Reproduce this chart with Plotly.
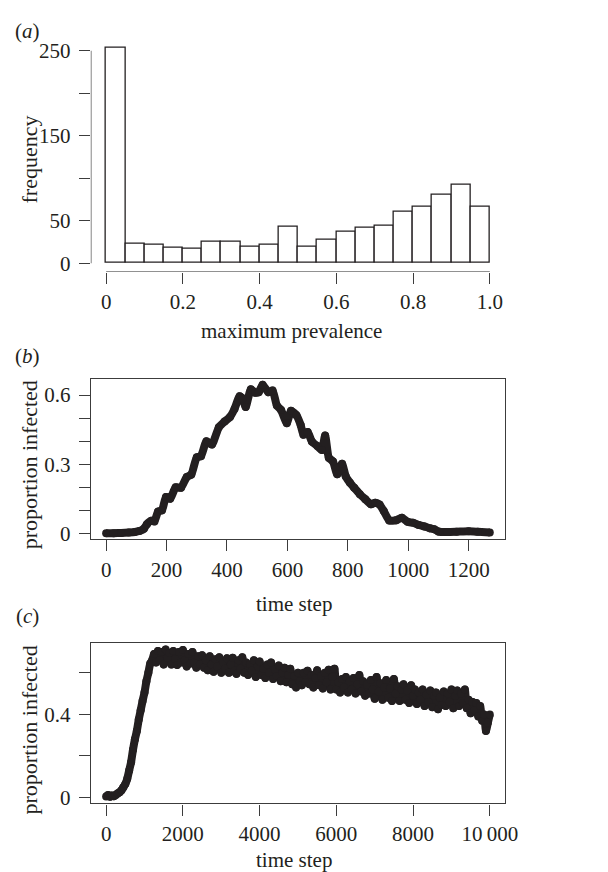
import plotly.graph_objects as go

# ---------------- data ----------------
# (a) histogram of maximum prevalence (bin width 0.05)
bin_left = [0.00, 0.05, 0.10, 0.15, 0.20, 0.25, 0.30, 0.35, 0.40, 0.45,
            0.50, 0.55, 0.60, 0.65, 0.70, 0.75, 0.80, 0.85, 0.90, 0.95]
bin_counts = [254, 23, 22, 18, 17, 25, 25, 19, 22, 43,
              19, 28, 37, 42, 44, 60, 66, 80, 92, 67]
bin_width = 0.05

# (b) single epidemic trajectory
b_time = [0, 25, 50, 75, 95, 110, 125, 135, 150, 160, 172, 185, 198, 212, 230,
          248, 267, 282, 300, 314, 332, 350, 373, 392, 410, 425, 442, 452, 462,
          479, 493, 505, 518, 537, 551, 565, 579, 598, 612, 630, 644, 653, 667,
          681, 700, 714, 725, 737, 751, 765, 781, 793, 807, 821, 840, 858, 877,
          891, 905, 919, 937, 960, 979, 998, 1016, 1035, 1053, 1072, 1086, 1100,
          1130, 1160, 1200, 1230, 1270]
b_prop = [0.000, 0.001, 0.002, 0.004, 0.006, 0.010, 0.020, 0.040, 0.055, 0.052,
          0.095, 0.100, 0.158, 0.150, 0.200, 0.198, 0.245, 0.255, 0.330, 0.335,
          0.400, 0.385, 0.460, 0.485, 0.505, 0.540, 0.595, 0.585, 0.548, 0.625,
          0.610, 0.612, 0.645, 0.612, 0.620, 0.555, 0.535, 0.478, 0.532, 0.512,
          0.470, 0.428, 0.440, 0.398, 0.378, 0.362, 0.425, 0.328, 0.312, 0.256,
          0.302, 0.248, 0.220, 0.198, 0.170, 0.148, 0.126, 0.133, 0.125, 0.097,
          0.056, 0.057, 0.068, 0.050, 0.046, 0.036, 0.030, 0.022, 0.018, 0.008,
          0.006, 0.007, 0.009, 0.007, 0.004]

# (c) long-run trajectory: rise phase (every 50 steps)
c_time_rise = [0, 50, 100, 150, 200, 250, 300, 350, 400, 450, 500, 550, 600,
               650, 700, 750, 800, 850, 900, 950, 1000, 1050, 1100, 1150]
c_prop_rise = [0.005, 0.012, 0.004, 0.010, 0.006, 0.012, 0.020, 0.025, 0.035,
               0.050, 0.065, 0.090, 0.130, 0.170, 0.230, 0.280, 0.320, 0.375,
               0.420, 0.465, 0.505, 0.560, 0.600, 0.645]
# (c) plateau / decline, every 50 steps from 1200 to 10000
c_prop_late = [
    0.660, 0.690, 0.650, 0.705, 0.660, 0.700, 0.640, 0.712, 0.672, 0.695,  # 1200
    0.640, 0.705, 0.665, 0.638, 0.700, 0.650, 0.710, 0.660, 0.630, 0.690,  # 1700
    0.645, 0.700, 0.650, 0.625, 0.680, 0.640, 0.685, 0.625, 0.660, 0.612,  # 2200
    0.680, 0.640, 0.605, 0.665, 0.630, 0.675, 0.600, 0.650, 0.620, 0.670,  # 2700
    0.600, 0.640, 0.672, 0.610, 0.595, 0.660, 0.620, 0.675, 0.600, 0.650,  # 3200
    0.590, 0.640, 0.610, 0.660, 0.580, 0.630, 0.655, 0.590, 0.620, 0.575,  # 3700
    0.640, 0.600, 0.650, 0.570, 0.615, 0.585, 0.635, 0.560, 0.600, 0.625,  # 4200
    0.555, 0.590, 0.620, 0.545, 0.585, 0.530, 0.600, 0.560, 0.540, 0.600,  # 4700
    0.555, 0.610, 0.545, 0.590, 0.530, 0.575, 0.612, 0.540, 0.585, 0.525,  # 5200
    0.600, 0.555, 0.615, 0.520, 0.580, 0.620, 0.520, 0.555, 0.505, 0.570,  # 5700
    0.530, 0.580, 0.505, 0.560, 0.520, 0.575, 0.500, 0.545, 0.590, 0.510,  # 6200
    0.560, 0.490, 0.545, 0.500, 0.565, 0.520, 0.475, 0.580, 0.510, 0.550,  # 6700
    0.470, 0.530, 0.565, 0.480, 0.525, 0.465, 0.570, 0.500, 0.535, 0.465,  # 7200
    0.520, 0.545, 0.470, 0.515, 0.455, 0.540, 0.490, 0.520, 0.450, 0.505,  # 7700
    0.470, 0.520, 0.440, 0.495, 0.460, 0.515, 0.435, 0.490, 0.505, 0.425,  # 8200
    0.480, 0.445, 0.510, 0.440, 0.500, 0.460, 0.520, 0.430, 0.490, 0.515,  # 8700
    0.440, 0.500, 0.455, 0.520, 0.430, 0.470, 0.405, 0.460, 0.420, 0.455,  # 9200
    0.390, 0.440, 0.370, 0.400, 0.320, 0.360, 0.400,                      # 9700
]
c_time_late = [1200 + 50 * i for i in range(len(c_prop_late))]
c_time = c_time_rise + c_time_late
c_prop = c_prop_rise + c_prop_late

# tick labels
a_xticks = [0, 0.2, 0.4, 0.6, 0.8, 1.0]
a_xlabels = ["0", "0.2", "0.4", "0.6", "0.8", "1.0"]
a_yticks = [0, 50, 100, 150, 200, 250]
a_ylabels = ["0", "50", "", "150", "", "250"]
b_xticks = [0, 200, 400, 600, 800, 1000, 1200]
b_xlabels = ["0", "200", "400", "600", "800", "1000", "1200"]
b_yticks = [0, 0.1, 0.2, 0.3, 0.4, 0.5, 0.6]
b_ylabels = ["0", "", "", "0.3", "", "", "0.6"]
c_xticks = [0, 2000, 4000, 6000, 8000, 10000]
c_xlabels = ["0", "2000", "4000", "6000", "8000", "10\u2009000"]
c_yticks = [0, 0.2, 0.4, 0.6]
c_ylabels = ["0", "", "0.4", ""]

# ---------------- figure ----------------
W, H = 608, 872
INK = "#231f20"
AX = "#3c3c3c"
FONT = "Liberation Serif"
FS = 21

def px_x(x):
    return x / W

def px_y(y):
    return 1 - y / H

fig = go.Figure()

bin_centers = [b + bin_width / 2 for b in bin_left]
fig.add_trace(go.Bar(x=bin_centers, y=bin_counts, width=bin_width,
                     marker=dict(color="white", line=dict(color=INK, width=1.3)),
                     xaxis="x", yaxis="y", showlegend=False, hoverinfo="skip"))

fig.add_trace(go.Scatter(x=b_time, y=b_prop, mode="lines+markers",
                         line=dict(color=INK, width=8, shape="spline", smoothing=0.5),
                         marker=dict(color=INK, size=8),
                         xaxis="x2", yaxis="y2", showlegend=False))

fig.add_trace(go.Scatter(x=c_time, y=c_prop, mode="lines+markers",
                         line=dict(color=INK, width=8, shape="spline", smoothing=0.6),
                         marker=dict(color=INK, size=8),
                         xaxis="x3", yaxis="y3", showlegend=False))

xdom = [84.6 / W, 508 / W]
common_tick = dict(ticks="outside", ticklen=11, tickwidth=1.2, tickcolor=AX,
                   showgrid=False, zeroline=False,
                   tickfont=dict(family=FONT, size=FS, color=INK))

fig.update_layout(
    xaxis=dict(domain=xdom, range=[-0.04, 1.04], tickvals=a_xticks,
               ticktext=a_xlabels, anchor="y", showline=False, **common_tick),
    yaxis=dict(domain=[px_y(265.7), px_y(31)], range=[-10.16, 264.16],
               tickvals=a_yticks, ticktext=a_ylabels, anchor="x",
               showline=False, ticklabelstandoff=4, **common_tick),
    xaxis2=dict(domain=xdom, range=[-50.8, 1320.8], tickvals=b_xticks,
                ticktext=b_xlabels, anchor="y2", showline=True, mirror=True,
                linecolor=AX, linewidth=1.3, **common_tick),
    yaxis2=dict(domain=[px_y(535), px_y(373.3)], range=[-0.0258, 0.6708],
                tickvals=b_yticks, ticktext=b_ylabels, anchor="x2",
                showline=True, mirror=True, linecolor=AX, linewidth=1.3,
                ticklabelstandoff=4, **common_tick),
    xaxis3=dict(domain=xdom, range=[-400, 10400], tickvals=c_xticks,
                ticktext=c_xlabels, anchor="y3", showline=True, mirror=True,
                linecolor=AX, linewidth=1.3, **common_tick),
    yaxis3=dict(domain=[px_y(801), px_y(639.3)], range=[-0.0286, 0.744],
                tickvals=c_yticks, ticktext=c_ylabels, anchor="x3",
                showline=True, mirror=True, linecolor=AX, linewidth=1.3,
                ticklabelstandoff=4, **common_tick),
)

# R-style separated axis lines for (a)
fig.add_shape(type="line", xref="x", yref="y", x0=-0.04, x1=-0.04, y0=0, y1=250,
              line=dict(color=AX, width=1.3))
fig.add_shape(type="line", xref="x", yref="y", x0=0, x1=1, y0=-10.16, y1=-10.16,
              line=dict(color=AX, width=1.3))

ann = []
def add_text(text, x, y, angle=0, size=FS):
    ann.append(dict(text=text, x=px_x(x), y=px_y(y), xref="paper", yref="paper",
                    showarrow=False, textangle=angle, xanchor="center",
                    yanchor="middle", font=dict(family=FONT, size=size, color=INK)))

add_text("(<i>a</i>)", 20, 23)
add_text("(<i>b</i>)", 20, 350)
add_text("(<i>c</i>)", 20, 612)
add_text("frequency", 22, 153, angle=-90, size=22)
add_text("proportion infected", 22, 460, angle=-90, size=22)
add_text("proportion infected", 22, 727, angle=-90, size=22)
add_text("maximum prevalence", 290, 325)
add_text("time step", 292, 600)
add_text("time step", 292, 858)

fig.update_layout(annotations=ann, width=W, height=H,
                  margin=dict(l=0, r=0, t=0, b=0),
                  paper_bgcolor="white", plot_bgcolor="white",
                  bargap=0, showlegend=False)

fig.write_html("out.html")
